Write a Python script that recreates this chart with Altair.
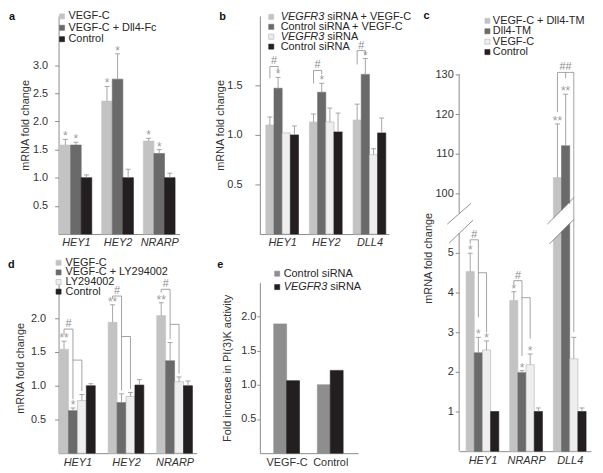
import altair as alt
import pandas as pd

FONT = "Liberation Sans"
LIGHT, DARK, PALE, BLACK, MID = "#c3c3c3", "#6a6a6a", "#eeeeee", "#231f20", "#8e8e8e"
AXIS, ERR, TXT, LEGTXT = "#8c8c8c", "#9b9b9b", "#333333", "#262626"

# ---------------- panel a ----------------
a_genes = ["HEY1", "HEY2", "NRARP"]
a_series = ["VEGF-C", "VEGF-C + Dll4-Fc", "Control"]
a_vegfc = [1.58, 2.36, 1.65]
a_vegfc_top = [1.68, 2.62, 1.70]
a_dll4fc = [1.58, 2.75, 1.43]
a_dll4fc_top = [1.63, 3.20, 1.50]
a_control = [1.00, 1.00, 1.00]
a_control_top = [1.05, 1.15, 1.08]
a_vegfc_sig = ["*", "*", "*"]
a_dll4fc_sig = ["*", "*", "*"]
a_yticks = [0.5, 1.0, 1.5, 2.0, 2.5, 3.0]

# ---------------- panel b ----------------
b_genes = ["HEY1", "HEY2", "DLL4"]
b_series = ["VEGFR3 siRNA + VEGF-C", "Control siRNA + VEGF-C", "VEGFR3 siRNA", "Control siRNA"]
b_r3_vegfc = [1.10, 1.13, 1.15]
b_r3_vegfc_top = [1.18, 1.21, 1.31]
b_ctl_vegfc = [1.47, 1.43, 1.61]
b_ctl_vegfc_top = [1.58, 1.52, 1.77]
b_r3 = [1.02, 1.13, 0.80]
b_r3_top = [1.02, 1.27, 0.86]
b_ctl = [1.00, 1.03, 1.02]
b_ctl_top = [1.09, 1.22, 1.17]
b_ctl_vegfc_sig = ["*", "*", "*"]
# (gene, bar i, bar j, level, leg i bottom, leg j bottom, label)
b_brackets = [(0, 0, 1, 1.69, 1.57, 1.65, "#"),
              (1, 0, 1, 1.65, 1.52, 1.61, "#"),
              (2, 0, 1, 1.85, 1.71, 1.81, "#")]
b_yticks = [0.5, 1.0, 1.5]

# ---------------- panel c ----------------
c_genes = ["HEY1", "NRARP", "DLL4"]
c_series = ["VEGF-C + Dll4-TM", "Dll4-TM", "VEGF-C", "Control"]
c_combo = [4.53, 3.80, 104.0]
c_combo_top = [4.99, 4.02, 117.5]
c_dll4tm = [2.48, 1.98, 112.0]
c_dll4tm_top = [2.87, 2.03, 125.0]
c_vegfc = [2.55, 2.18, 2.33]
c_vegfc_top = [2.78, 2.45, 2.87]
c_control = [1.00, 1.00, 1.00]
c_control_top = [1.00, 1.09, 1.09]
c_combo_sig = ["*", "*", "**"]
c_dll4tm_sig = ["*", "*", "**"]
c_vegfc_sig = ["*", "*", ""]
c_brackets = [(0, 0, 1, 5.33, 5.23, 3.38, "#"),
              (0, 1, 2, 4.50, None, 3.00, ""),
              (1, 0, 1, 4.30, 4.20, 2.40, "#"),
              (1, 1, 2, 3.87, None, 2.84, ""),
              (2, 0, 2, 130.5, 120.5, 3.00, "##")]
c_legs = [(2, 1, 129.0, 130.5)]
c_yticks = [1, 2, 3, 4, 5, 100, 110, 120, 130]

# ---------------- panel d ----------------
d_genes = ["HEY1", "HEY2", "NRARP"]
d_series = ["VEGF-C", "VEGF-C + LY294002", "LY294002", "Control"]
d_vegfc = [1.54, 1.94, 2.04]
d_vegfc_top = [1.66, 2.20, 2.23]
d_combo = [0.63, 0.75, 1.37]
d_combo_top = [0.67, 0.88, 1.64]
d_ly = [0.78, 0.84, 1.06]
d_ly_top = [0.87, 0.90, 1.13]
d_control = [1.00, 1.01, 1.00]
d_control_top = [1.03, 1.09, 1.07]
d_vegfc_sig = ["**", "**", "**"]
d_combo_sig = ["*", "", ""]
d_brackets = [(0, 0, 1, 1.84, 1.76, 0.80, "#"),
              (0, 1, 2, 1.38, None, 0.92, ""),
              (1, 0, 1, 2.33, 2.29, 0.93, "#"),
              (1, 1, 2, 1.73, None, 0.95, ""),
              (2, 0, 1, 2.43, 2.38, 1.69, "#"),
              (2, 1, 2, 1.91, None, 1.18, "")]
d_yticks = [0.5, 1.0, 1.5, 2.0]

# ---------------- panel e ----------------
e_groups = ["VEGF-C", "Control"]
e_series = ["Control siRNA", "VEGFR3 siRNA"]
e_ctl_sirna = [1.89, 1.00]
e_r3_sirna = [1.06, 1.21]
e_yticks = [0.5, 1.0, 1.5, 2.0]


def bars_frame(genes, series, vals, tops, sigs, step, groupw, fills, strokes):
    S = len(series)
    bw = groupw / step / S
    cap = 2.5 / step
    rows = []
    for s, name in enumerate(series):
        for g, gene in enumerate(genes):
            xc = g + (s - (S - 1) / 2) * bw
            rows.append(dict(series=name, gene=gene, xl=xc - bw / 2, xr=xc + bw / 2,
                             xc=xc, cl=xc - cap, cr=xc + cap, value=vals[s][g],
                             top=tops[s][g], sig=sigs[s][g],
                             fill=fills[s], stroke=strokes[s]))
    return pd.DataFrame(rows)


def bracket_frames(brackets, legs, S, bw):
    def center(g, s):
        return g + (s - (S - 1) / 2) * bw
    segs, labs = [], []
    for (g, i, j, h, li, lj, lab) in brackets:
        xi, xj = center(g, i), center(g, j)
        segs.append(dict(x=xi, x2=xj, y=h, y2=h))
        if li is not None:
            segs.append(dict(x=xi, x2=xi, y=li, y2=h))
        if lj is not None:
            segs.append(dict(x=xj, x2=xj, y=lj, y2=h))
        if lab:
            labs.append(dict(x=(xi + xj) / 2, y=h, t=lab))
    for (g, k, lo, hi) in legs:
        xk = center(g, k)
        segs.append(dict(x=xk, x2=xk, y=lo, y2=hi))
    return pd.DataFrame(segs), pd.DataFrame(labs)


ONE = pd.DataFrame({"k": [0]})


def frame(x0, y0, x1, y1):
    # invisible box that fixes the panel's extent in the concatenated layout
    return alt.Chart(ONE).mark_rule(strokeOpacity=0, strokeWidth=0.01).encode(
        x=alt.value(x0), x2=alt.value(x1), y=alt.value(y0), y2=alt.value(y1))


def legend_layers(entries, fills, strokes, xs, xt, y0, dy):
    layers = []
    for i, (ital, rest) in enumerate(entries):
        y = y0 + i * dy
        layers.append(alt.Chart(ONE).mark_square(size=26, fill=fills[i], stroke=strokes[i],
                                                 strokeWidth=0.6, opacity=1)
                      .encode(x=alt.value(xs), y=alt.value(y)))
        x = xt
        if ital:
            layers.append(alt.Chart(ONE).mark_text(text=ital, font=FONT, fontSize=11, fontStyle="italic",
                                                   align="left", baseline="middle", color=LEGTXT)
                          .encode(x=alt.value(x), y=alt.value(y)))
            x = xt + 47
        layers.append(alt.Chart(ONE).mark_text(text=rest, font=FONT, fontSize=11,
                                               align="left", baseline="middle", color=LEGTXT)
                      .encode(x=alt.value(x), y=alt.value(y)))
    return layers


def panel_label(letter, x, y):
    return alt.Chart(ONE).mark_text(text=letter, font=FONT, fontSize=11, fontWeight="bold",
                                    align="left", baseline="alphabetic", color="#111111"
                                    ).encode(x=alt.value(x), y=alt.value(y))


def panel(genes, series, fills, strokes, vals, tops, sigs, brackets, legs,
          step, groupw, lpad, rpad, height, yscale, yaxis, italic=True,
          under=(), over=()):
    G, S = len(genes), len(series)
    width = lpad + rpad + groupw + (G - 1) * step
    xs = alt.Scale(domain=[-(groupw / 2 + lpad) / step, (G - 1) + (groupw / 2 + rpad) / step],
                   nice=False, zero=False)
    expr = "[" + ",".join("'%s'" % g for g in genes) + "][round(datum.value)]"
    xaxis = alt.Axis(values=list(range(G)), labelExpr=expr, ticks=False, title=None,
                     labelFontStyle="italic" if italic else "normal", labelPadding=3,
                     labelFlush=False, grid=False, domainColor=AXIS, labelColor=TXT)

    def X(f):
        return alt.X(f, scale=xs, axis=xaxis)

    def Y(f):
        return alt.Y(f, scale=yscale, axis=yaxis)

    df = bars_frame(genes, series, vals, tops, sigs, step, groupw, fills, strokes)
    base = alt.Chart(df)
    layers = [base.mark_bar(strokeWidth=0.6).encode(
        x=X("xl:Q"), x2="xr:Q", y=Y("value:Q"), y2=alt.datum(0),
        fill=alt.Fill("fill:N", scale=None), stroke=alt.Stroke("stroke:N", scale=None))]
    layers += list(under)
    errs = base.transform_filter("datum.top > datum.value")
    layers.append(errs.mark_rule(color=ERR, strokeWidth=0.9).encode(
        x=X("xc:Q"), y=Y("value:Q"), y2="top:Q"))
    layers.append(errs.mark_rule(color=ERR, strokeWidth=0.9).encode(
        x=X("cl:Q"), x2="cr:Q", y=Y("top:Q")))
    layers.append(base.transform_filter("datum.sig != ''").mark_text(
        color=ERR, font=FONT, fontSize=12, baseline="alphabetic", dy=1).encode(
        x=X("xc:Q"), y=Y("top:Q"), text="sig:N"))
    if brackets:
        segs, labs = bracket_frames(brackets, legs, S, groupw / step / S)
        layers.append(alt.Chart(segs).mark_rule(color=AXIS, strokeWidth=0.8).encode(
            x=X("x:Q"), x2="x2:Q", y=Y("y:Q"), y2="y2:Q"))
        layers.append(alt.Chart(labs).mark_text(color=AXIS, font=FONT, fontSize=11,
                                                baseline="alphabetic", dy=-2).encode(
            x=X("x:Q"), y=Y("y:Q"), text="t:N"))
    layers += list(over)
    return alt.layer(*layers).properties(width=width, height=height)


def yaxis(ticks, fmt, title, tick, lpad, tpad, **kw):
    return alt.Axis(values=ticks, format=fmt, title=title, tickSize=tick, labelPadding=lpad,
                    titlePadding=tpad, grid=False, domainColor=AXIS, tickColor=AXIS,
                    labelColor=TXT, titleColor=TXT, titleFontWeight="normal", **kw)


# ---------- a ----------
fa = [LIGHT, DARK, BLACK]
sa = [LIGHT, DARK, BLACK]
pa = panel(a_genes, a_series, fa, sa,
           [a_vegfc, a_dll4fc, a_control], [a_vegfc_top, a_dll4fc_top, a_control_top],
           [a_vegfc_sig, a_dll4fc_sig, ["", "", ""]], [], [],
           42, 32, 1.5, 4.5, 220, alt.Scale(domain=[0, 3.873], nice=False),
           yaxis(a_yticks, ".1f", "mRNA fold change", 4, 7, 2),
           over=legend_layers([("", s) for s in a_series], fa, sa, 3.5, 10, 0.5, 11.5)
           + [panel_label("a", -50, 3.7), frame(-50, -5, 154, 237)])

# ---------- b ----------
fb = [LIGHT, DARK, PALE, BLACK]
sb = [LIGHT, DARK, "#b0b0b0", BLACK]
pb = panel(b_genes, b_series, fb, sb,
           [b_r3_vegfc, b_ctl_vegfc, b_r3, b_ctl],
           [b_r3_vegfc_top, b_ctl_vegfc_top, b_r3_top, b_ctl_top],
           [["", "", ""], b_ctl_vegfc_sig, ["", "", ""], ["", "", ""]], b_brackets, [],
           44, 33, 6, 3, 220, alt.Scale(domain=[0, 2.2], nice=False),
           yaxis(b_yticks, ".1f", "mRNA fold change", 5, 13, 1),
           over=legend_layers([("VEGFR3", "siRNA + VEGF-C"), ("", "Control siRNA + VEGF-C"),
                               ("VEGFR3", "siRNA"), ("", "Control siRNA")],
                              fb, sb, 11.5, 21, 1, 10)
           + [panel_label("b", -41, 3.7), frame(-46, -5, 156, 237)])

# ---------- c ----------
fc = [LIGHT, DARK, PALE, BLACK]
sc = [LIGHT, DARK, "#b0b0b0", BLACK]
c_scale = alt.Scale(domain=[0, 5.5, 98, 144.75], range=[439, 219, 187, 0], nice=False, zero=False)
c_under = [
    alt.Chart(ONE).mark_rule(color="white", strokeWidth=15, strokeCap="butt").encode(
        x=alt.value(89), x2=alt.value(116), y=alt.value(221), y2=alt.value(194)),
    alt.Chart(ONE).mark_rule(color="#777777", strokeWidth=0.8).encode(
        x=alt.value(89), x2=alt.value(116), y=alt.value(210), y2=alt.value(183)),
    alt.Chart(ONE).mark_rule(color="#777777", strokeWidth=0.8).encode(
        x=alt.value(91), x2=alt.value(116), y=alt.value(230), y2=alt.value(205)),
    alt.Chart(ONE).mark_rule(color=AXIS, strokeWidth=1).encode(
        x=alt.value(0), y=alt.value(59), y2=alt.value(199)),
    alt.Chart(ONE).mark_rule(color=AXIS, strokeWidth=1).encode(
        x=alt.value(0), y=alt.value(219), y2=alt.value(439)),
    alt.Chart(ONE).mark_rule(color="#777777", strokeWidth=0.8).encode(
        x=alt.value(-12), x2=alt.value(12), y=alt.value(210), y2=alt.value(189)),
    alt.Chart(ONE).mark_rule(color="#777777", strokeWidth=0.8).encode(
        x=alt.value(-10), x2=alt.value(14), y=alt.value(229), y2=alt.value(206)),
]
pc = panel(c_genes, c_series, fc, sc,
           [c_combo, c_dll4tm, c_vegfc, c_control],
           [c_combo_top, c_dll4tm_top, c_vegfc_top, c_control_top],
           [c_combo_sig, c_dll4tm_sig, c_vegfc_sig, ["", "", ""]], c_brackets, c_legs,
           44, 33, 7, 5, 439, c_scale,
           yaxis(c_yticks, "d", "mRNA fold change", 4, 2, 2, domain=False, titleY=244),
           under=c_under,
           over=legend_layers([("", s) for s in c_series], fc, sc, 28.5, 34, 5, 10.5)
           + [panel_label("c", -36, 3.2), frame(-45, -5, 137, 453)])

# ---------- d ----------
fd = [LIGHT, DARK, PALE, BLACK]
sd = [LIGHT, DARK, "#b0b0b0", BLACK]
pd_ = panel(d_genes, d_series, fd, sd,
            [d_vegfc, d_combo, d_ly, d_control],
            [d_vegfc_top, d_combo_top, d_ly_top, d_control_top],
            [d_vegfc_sig, d_combo_sig, ["", "", ""], ["", "", ""]], d_brackets, [],
            49, 36, 1, 4, 172, alt.Scale(domain=[0, 2.529], nice=False),
            yaxis(d_yticks, ".1f", "mRNA fold change", 4, 9, 5),
            over=legend_layers([("", s) for s in d_series], fd, sd, 0, 7, -20, 9.7)
            + [panel_label("d", -51, -15), frame(-50, -32, 154, 184)])

# ---------- e ----------
fe = [MID, BLACK]
se = [MID, BLACK]
pe = panel(e_groups, e_series, fe, se,
           [e_ctl_sirna, e_r3_sirna], [e_ctl_sirna, e_r3_sirna],
           [["", ""], ["", ""]], [], [],
           44, 26, 14, 15, 172, alt.Scale(domain=[0, 2.493], nice=False),
           yaxis(e_yticks, ".1f", "Fold increase in PI(3)K activity", 3, 1, 8),
           italic=False,
           over=legend_layers([("", "Control siRNA"), ("VEGFR3", "siRNA")], fe, se, 17.5, 24, -9, 13.5)
           + [panel_label("e", -43, -15), frame(-49, -32, 153, 184)])

col1 = alt.vconcat(pa, pd_, spacing=0)
col2 = alt.vconcat(pb, pe, spacing=0)
chart = (alt.hconcat(col1, col2, pc, spacing=0)
         .properties(padding=0)
         .configure(font=FONT)
         .configure_view(stroke=None)
         .configure_axis(labelFont=FONT, titleFont=FONT, labelFontSize=11, titleFontSize=11))

chart.save("out.html", embed_options={"renderer": "svg", "actions": False})
